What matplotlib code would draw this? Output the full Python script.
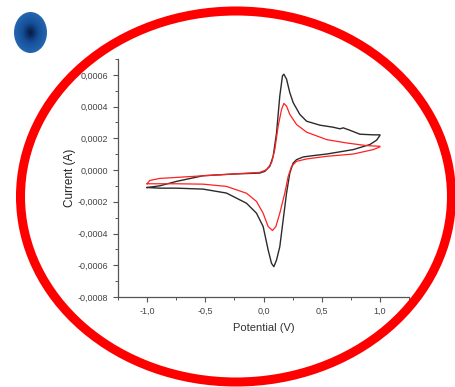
import numpy as np
import matplotlib
matplotlib.use("Agg")
import matplotlib.pyplot as plt
from matplotlib.patches import Ellipse
from matplotlib.ticker import MultipleLocator

plt.rcParams['font.family'] = ['Liberation Sans', 'DejaVu Sans']

# Cyclic voltammogram values (potential V, current A)
black_v = [-1.0, -0.891, -0.748, -0.519, -0.261, -0.032, 0.011, 0.054, 0.083, 0.112,
           0.140, 0.163, 0.175, 0.198, 0.226, 0.255, 0.312, 0.370, 0.484, 0.599,
           0.656, 0.685, 0.742, 0.828, 0.943, 1.0,
           1.0, 0.971, 0.914, 0.771, 0.542, 0.427, 0.341, 0.284, 0.255, 0.226,
           0.198, 0.169, 0.140, 0.112, 0.089, 0.069, 0.040, -0.003, -0.060, -0.146,
           -0.318, -0.519, -0.748, -0.891, -1.0]
black_i = [-0.000110, -0.0000993, -0.0000715, -0.0000357, -0.0000251, -0.0000188,
           -0.0000082, 0.0000234, 0.0000868, 0.000234, 0.000467, 0.000594, 0.000604,
           0.000573, 0.000488, 0.000425, 0.000351, 0.000308, 0.000283, 0.000270,
           0.000260, 0.000266, 0.000251, 0.000226, 0.000222, 0.000222,
           0.000218, 0.000188, 0.000161, 0.000129, 0.000101, 0.000091, 0.0000826,
           0.0000657, 0.0000446, -0.0000188, -0.000145, -0.000314, -0.000483,
           -0.000567, -0.000609, -0.000588, -0.000504, -0.000356, -0.000272,
           -0.000209, -0.000145, -0.000120, -0.000114, -0.000114, -0.000110]

red_v = [-1.0, -0.977, -0.891, -0.605, -0.318, -0.032, 0.026, 0.069, 0.097, 0.126,
         0.155, 0.175, 0.198, 0.226, 0.284, 0.370, 0.542, 0.713, 0.885, 1.0,
         1.0, 0.943, 0.771, 0.542, 0.370, 0.284, 0.241, 0.212, 0.183, 0.140,
         0.106, 0.077, 0.040, -0.003, -0.060, -0.146, -0.318, -0.519, -0.748, -1.0]
red_i = [-0.0000864, -0.0000654, -0.0000527, -0.0000399, -0.0000272, -0.0000146,
         0.0000023, 0.0000446, 0.000129, 0.000277, 0.000382, 0.000420, 0.000403,
         0.000351, 0.000287, 0.000239, 0.000192, 0.000171, 0.000154, 0.000150,
         0.000146, 0.000129, 0.000101, 0.0000866, 0.000070, 0.0000551, 0.0000234,
         -0.000040, -0.000145, -0.000272, -0.000356, -0.000381, -0.000356,
         -0.000272, -0.000198, -0.000146, -0.000103, -0.0000888, -0.0000864,
         -0.0000864]

x_ticks = [-1.0, -0.5, 0.0, 0.5, 1.0]
x_labels = ['-1,0', '-0,5', '0,0', '0,5', '1,0']
y_ticks = [-0.0008, -0.0006, -0.0004, -0.0002, 0.0, 0.0002, 0.0004, 0.0006]
y_labels = ['-0,0008', '-0,0006', '-0,0004', '-0,0002', '0,0000', '0,0002', '0,0004', '0,0006']

W, H = 456, 387
fig = plt.figure(figsize=(W / 100, H / 100), dpi=100)

ax = fig.add_axes([118 / W, 1 - 297 / H, (409 - 118) / W, (297 - 59) / H])
ax.plot(black_v, black_i, color='#2b2b2b', lw=1.0)
ax.plot(red_v, red_i, color='#ff2020', lw=0.9)
ax.set_xlim(-1.25, 1.25)
ax.set_ylim(-0.0008, 0.0007)
ax.set_xticks(x_ticks)
ax.set_xticklabels(x_labels)
ax.set_yticks(y_ticks)
ax.set_yticklabels(y_labels)
ax.xaxis.set_minor_locator(MultipleLocator(0.25))
ax.yaxis.set_minor_locator(MultipleLocator(0.0001))
for s in ['top', 'right']:
    ax.spines[s].set_visible(False)
for s in ['left', 'bottom']:
    ax.spines[s].set_color('#555555')
    ax.spines[s].set_linewidth(0.9)
ax.tick_params(which='major', direction='out', length=3.5, width=0.8,
               colors='#555555', labelsize=6.5, labelcolor='#444444')
ax.tick_params(which='minor', direction='out', length=2, width=0.7, colors='#555555')
ax.set_xlabel('Potential (V)', fontsize=8, color='#333333', labelpad=5)
ax.set_ylabel('Current (A)', fontsize=8.5, color='#222222', labelpad=1)

# decoration layer in pixel coordinates
over = fig.add_axes([0, 0, 1, 1], zorder=10)
over.set_xlim(0, W)
over.set_ylim(H, 0)
over.axis('off')
over.patch.set_alpha(0)
over.add_patch(Ellipse((236, 196.5), 431, 371, fill=False, ec='#ff0000', lw=6.5))

# blue dot with radial shading
yy, xx = np.mgrid[0:1:80j, 0:1:80j]
r = np.sqrt((xx - 0.5) ** 2 + (yy - 0.5) ** 2) / 0.5
shade = np.clip(r, 0, 1)
img = over.imshow(shade, cmap=matplotlib.colors.LinearSegmentedColormap.from_list(
    'b', ['#061c45', '#17509a', '#2466b0']), extent=(14, 47, 53, 12), zorder=5)
dot = Ellipse((30.5, 32.5), 33, 41, transform=over.transData)
img.set_clip_path(dot)
over.set_xlim(0, W)
over.set_ylim(H, 0)

fig.savefig('out.png', dpi=100)
